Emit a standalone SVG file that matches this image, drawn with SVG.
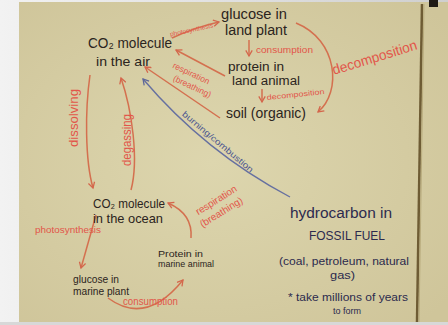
<svg xmlns="http://www.w3.org/2000/svg" width="448" height="325" viewBox="0 0 448 325">
<defs>
<linearGradient id="lg" x1="0" x2="1" y1="0" y2="0">
<stop offset="0" stop-color="#f2f2f2"/><stop offset="1" stop-color="#cfcfcf"/>
</linearGradient>
<radialGradient id="bg" cx="0.45" cy="0.5" r="0.7">
<stop offset="0" stop-color="#ddd6ae"/><stop offset="1" stop-color="#cfc59a"/>
</radialGradient>
<marker id="ar" viewBox="0 0 10 10" refX="8" refY="5" markerWidth="8" markerHeight="8" orient="auto" markerUnits="userSpaceOnUse">
<path d="M1,1 L8,5 L1,9" fill="none" stroke="#d4664c" stroke-width="1.6"/>
</marker>
<marker id="ab" viewBox="0 0 10 10" refX="8" refY="5" markerWidth="8" markerHeight="8" orient="auto" markerUnits="userSpaceOnUse">
<path d="M1,1 L8,5 L1,9" fill="none" stroke="#5f6898" stroke-width="1.6"/>
</marker>
</defs>
<style>
.t{font-family:"Liberation Sans",Arial,sans-serif;fill:#2b2420}
.n{fill:#2c2a4e}
.r{font-family:"Liberation Sans",Arial,sans-serif;fill:#e2564a}
.c{fill:none;stroke:#d4704f;stroke-width:1.5;marker-end:url(#ar)}
.cb{fill:none;stroke:#6670a0;stroke-width:1.4;marker-end:url(#ab)}
</style>
<rect x="0" y="0" width="448" height="325" fill="url(#lg)"/>
<rect x="19" y="2" width="429" height="320" fill="url(#bg)"/>
<path d="M422,4 L417,322" stroke="#6e5c34" stroke-width="2.5" fill="none"/>
<path d="M424,4 L419,322" stroke="#b8ab7c" stroke-width="1" fill="none"/>
<rect x="429" y="0" width="9" height="7" fill="#1e1a14"/>
<rect x="0" y="322" width="448" height="3" fill="#d8d8d8"/>

<g id="connectors">
<path class="c" d="M172,38 Q196,27 219,22"/>
<path class="c" d="M249,40 L249,56"/>
<path class="c" d="M262,89 L262,102"/>
<path class="c" d="M225,76 L176,50"/>
<path class="c" d="M220,118 L145,67"/>
<path class="c" d="M296,23 C338,40 342,92 318,112"/>
<path class="cb" d="M290,197 Q205,152 143,79"/>
<path class="c" d="M90,75 C85,110 85,160 93,188"/>
<path class="c" d="M131,190 C139,160 132,110 121,78"/>
<path class="c" d="M96,215 L81,268"/>
<path class="c" d="M108,298 Q146,326 183,280"/>
<path class="c" d="M191,238 Q193,214 168,203"/>
<text class="r" font-size="6.5" transform="translate(192,32) rotate(-12)" text-anchor="middle" textLength="44" lengthAdjust="spacingAndGlyphs">photosynthesis</text>
<text class="r" font-size="9.5" x="256" y="53" textLength="57" lengthAdjust="spacingAndGlyphs">consumption</text>
<text class="r" font-size="7.5" transform="translate(267,100) rotate(-6)" textLength="58" lengthAdjust="spacingAndGlyphs">decomposition</text>
<text class="r" font-size="8.5" transform="translate(190,76) rotate(25)" text-anchor="middle">respiration</text>
<text class="r" font-size="8.5" transform="translate(191,89) rotate(25)" text-anchor="middle">(breathing)</text>
<text class="r" font-size="14" transform="translate(376,62) rotate(-17)" text-anchor="middle" textLength="88" lengthAdjust="spacingAndGlyphs">decomposition</text>
<text font-family="Liberation Sans,Arial,sans-serif" fill="#4e5890" font-size="8.5" transform="translate(216,144) rotate(40)" text-anchor="middle" textLength="90" lengthAdjust="spacingAndGlyphs">burning/combustion</text>
<text class="r" font-size="12" transform="translate(78,118) rotate(-90)" text-anchor="middle" textLength="58" lengthAdjust="spacingAndGlyphs">dissolving</text>
<text class="r" font-size="12" transform="translate(131,140) rotate(-90)" text-anchor="middle" textLength="52" lengthAdjust="spacingAndGlyphs">degassing</text>
<text class="r" font-size="9" x="35" y="233" textLength="66" lengthAdjust="spacingAndGlyphs">photosynthesis</text>
<text class="r" font-size="10" x="123" y="305" textLength="55" lengthAdjust="spacingAndGlyphs">consumption</text>
<text class="r" font-size="10" transform="translate(218,203) rotate(-32)" text-anchor="middle">respiration</text>
<text class="r" font-size="10" transform="translate(223,215) rotate(-32)" text-anchor="middle">(breathing)</text>
</g>

<g id="co2-air">
<text class="t" font-size="15" x="88" y="48" textLength="84" lengthAdjust="spacingAndGlyphs">CO₂ molecule</text>
<text class="t" font-size="13" x="96" y="66" textLength="54" lengthAdjust="spacingAndGlyphs">in the air</text>
</g>
<g id="glucose-land">
<text class="t" font-size="14" x="221" y="19" textLength="66" lengthAdjust="spacingAndGlyphs">glucose in</text>
<text class="t" font-size="14" x="225" y="35" textLength="62" lengthAdjust="spacingAndGlyphs">land plant</text>
</g>
<g id="protein-land">
<text class="t" font-size="12.5" x="228" y="71" textLength="56" lengthAdjust="spacingAndGlyphs">protein in</text>
<text class="t" font-size="12.5" x="232" y="85" textLength="68" lengthAdjust="spacingAndGlyphs">land animal</text>
</g>
<g id="soil">
<text class="t" font-size="15" x="226" y="118" textLength="80" lengthAdjust="spacingAndGlyphs">soil (organic)</text>
</g>
<g id="co2-ocean">
<text class="t" font-size="13" x="93" y="208" textLength="72" lengthAdjust="spacingAndGlyphs">CO₂ molecule</text>
<text class="t" font-size="13" x="93" y="223" textLength="70" lengthAdjust="spacingAndGlyphs">in the ocean</text>
</g>
<g id="glucose-marine">
<text class="t" font-size="10" x="73" y="283" textLength="46" lengthAdjust="spacingAndGlyphs">glucose in</text>
<text class="t" font-size="10" x="73" y="295" textLength="56" lengthAdjust="spacingAndGlyphs">marine plant</text>
</g>
<g id="protein-marine">
<text class="t" font-size="8.5" x="158" y="257" textLength="45" lengthAdjust="spacingAndGlyphs">Protein in</text>
<text class="t" font-size="8.5" x="158" y="267" textLength="56" lengthAdjust="spacingAndGlyphs">marine animal</text>
</g>
<g id="fossil-fuel">
<text class="t n" font-size="14" x="290" y="218" textLength="102" lengthAdjust="spacingAndGlyphs">hydrocarbon in</text>
<text class="t n" font-size="12" x="309" y="240" textLength="76" lengthAdjust="spacingAndGlyphs">FOSSIL FUEL</text>
<text class="t n" font-size="11" x="279" y="265" textLength="130" lengthAdjust="spacingAndGlyphs">(coal, petroleum, natural</text>
<text class="t n" font-size="11" x="330" y="279" textLength="25" lengthAdjust="spacingAndGlyphs">gas)</text>
<text class="t n" font-size="10" x="288" y="301" textLength="120" lengthAdjust="spacingAndGlyphs">* take millions of years</text>
<text class="t n" font-size="9" x="333" y="314" textLength="28" lengthAdjust="spacingAndGlyphs">to form</text>
</g>
</svg>
